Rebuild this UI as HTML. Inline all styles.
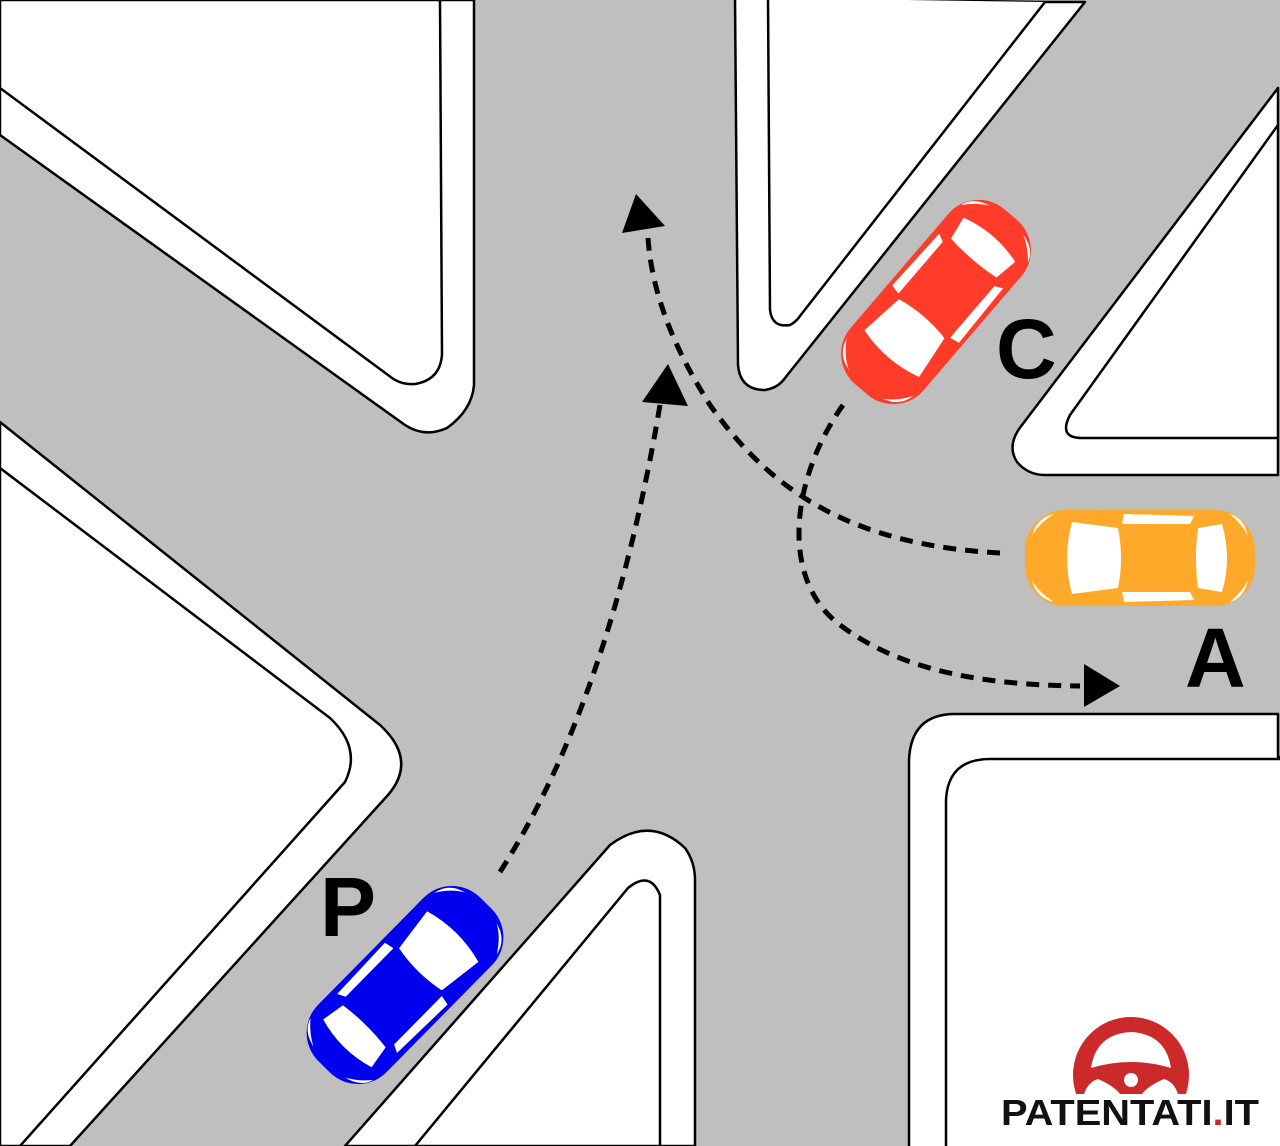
<!DOCTYPE html>
<html><head><meta charset="utf-8"><style>html,body{margin:0;padding:0;background:#fff}svg{display:block}</style></head>
<body>
<svg width="1280" height="1146" viewBox="0 0 1280 1146" xmlns="http://www.w3.org/2000/svg">
<defs>
<g id="car">
  <rect x="-115" y="-48" width="230" height="96" rx="40" ry="40"/>
  <path d="M-68,-36 Q-78,0 -68,36 L-22,30 Q-16,0 -22,-30 Z" fill="#fff"/>
  <path d="M58,-30 Q54,0 58,30 L82,34 Q92,0 82,-34 Z" fill="#fff"/>
  <path d="M-18,-34 L50,-34 L54,-42 L-16,-44 Z" fill="#fff"/>
  <path d="M-18,34 L50,34 L54,42 L-16,44 Z" fill="#fff"/>
  <path d="M-108,-22 Q-104,-40 -86,-44 Q-102,-34 -108,-22 Z" fill="#fff"/>
  <path d="M-108,22 Q-104,40 -86,44 Q-102,34 -108,22 Z" fill="#fff"/>
  <path d="M108,-22 Q104,-40 90,-44 Q102,-34 108,-22 Z" fill="#fff"/>
  <path d="M108,22 Q104,40 90,44 Q102,34 108,22 Z" fill="#fff"/>
</g>
<clipPath id="wc"><rect x="1060" y="990" width="150" height="104"/></clipPath>
</defs>
<rect width="1280" height="1146" fill="#bfbfbf"/>
<g stroke="#000" stroke-width="2.5" fill="#fff" stroke-linejoin="round">
  <!-- top-left -->
  <path d="M0,0 L474,0 L474,385 Q472,410 447,428 Q425,438 405,425 L0,135 Z"/>
  <path d="M0,0 L440,0 L442,355 Q440,380 415,384 Q402,385 392,378 L0,88 Z"/>
  <!-- lower-left -->
  <path d="M0,422 L380,725 Q418,760 388,795 L70,1146 L0,1146 Z"/>
  <path d="M0,468 L330,718 Q362,748 345,782 L20,1146 L0,1146 Z"/>
  <!-- bottom-middle -->
  <path d="M345,1146 L610,845 Q650,815 685,848 Q695,862 695,880 L695,1146 Z"/>
  <path d="M415,1146 L628,888 Q650,870 660,895 L660,1146 Z"/>
  <!-- bottom-right -->
  <path d="M909,1148 L909,760 Q911,714 955,714 L1278,714 L1278,757 L1282,757 L1282,1148 Z"/>
  <path d="M946,1148 L946,800 Q948,759 990,759 L1282,759" />
  <!-- right-middle -->
  <path d="M1278,88 L1022,425 Q1006,445 1017,462 Q1028,475 1045,475 L1278,475 Z" />
  <path d="M1278,125 L1070,415 Q1058,438 1082,438 L1278,438" fill="none"/>
  <!-- top-right -->
  <path d="M735,-2 L738,365 Q740,390 765,390 Q778,388 785,378 L1085,2 L1045,2 Z"/>
  <path d="M768,-2 L770,310 Q772,328 790,325 Q796,322 800,316 L1045,2"/>
</g>
<!-- dashed paths -->
<g fill="none" stroke="#000" stroke-width="5" stroke-dasharray="13 9">
  <path d="M500,872 Q610,700 660,405"/>
  <path d="M1000,553 C850,545 770,490 710,405 C675,350 652,295 648,238"/>
  <path d="M843,405 C790,480 780,580 840,625 C900,670 980,685 1080,686"/>
</g>
<g fill="#000">
  <path d="M642,402 L688,406 L668,364 Z"/>
  <path d="M622,233 L665,226 L636,194 Z"/>
  <path d="M1084,664 L1084,707 L1120,686 Z"/>
</g>
<!-- cars -->
<use href="#car" fill="#ffa92a" transform="translate(1140,558)"/>
<use href="#car" fill="#ff3b2a" transform="translate(936,302) rotate(-49.4)"/>
<use href="#car" fill="#0000ee" transform="translate(405,985) rotate(134.6)"/>
<!-- labels -->
<g font-family="Liberation Sans, sans-serif" font-weight="bold" font-size="84" fill="#000">
  <text x="996" y="378">C</text>
  <text x="1185" y="687">A</text>
  <text x="320" y="936">P</text>
</g>
<!-- logo -->
<g>
  <g clip-path="url(#wc)">
    <circle cx="1131" cy="1075" r="58" fill="#cc2a2a"/>
    <path d="M1091,1068 Q1096,1034 1131,1032 Q1166,1034 1171,1068 Q1131,1056 1091,1068 Z" fill="#fff"/>
    <path d="M1084,1094 Q1088,1082 1098,1079 Q1114,1086 1120,1094 Z" fill="#fff"/>
    <path d="M1178,1094 Q1174,1082 1164,1079 Q1148,1086 1142,1094 Z" fill="#fff"/>
    <circle cx="1131" cy="1080" r="7" fill="#fff"/>
  </g>
  <text x="1001" y="1125" font-family="Liberation Sans, sans-serif" font-weight="bold" font-size="36" textLength="258" lengthAdjust="spacingAndGlyphs" fill="#111">PATENTATI<tspan fill="#cc2a2a">.</tspan>IT</text>
</g>
</svg>
</body></html>
